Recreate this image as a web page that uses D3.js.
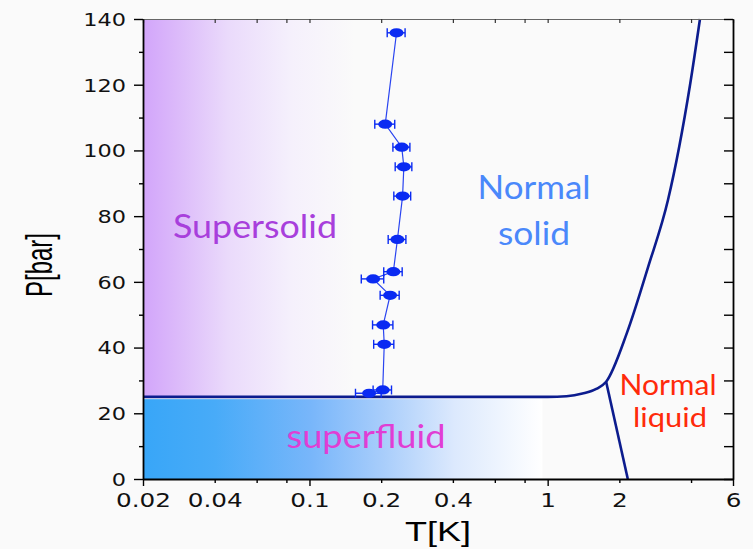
<!DOCTYPE html>
<html>
<head>
<meta charset="utf-8">
<script src="https://cdn.jsdelivr.net/npm/d3@7"></script>
<style>
  html, body { margin: 0; padding: 0; background: #fafafa; }
  svg { display: block; }
</style>
</head>
<body>
<svg id="chart" width="753" height="549"></svg>
<script>
// Onset temperature of the supersolid signal vs pressure
const pressure = [135.8, 108.0, 101.0, 95.0, 86.1, 72.9, 63.1, 60.9, 55.9, 46.9, 41.0, 27.1, 26.1];
const tOnset   = [0.232, 0.208, 0.244, 0.249, 0.246, 0.234, 0.225, 0.185, 0.218, 0.204, 0.206, 0.203, 0.178];
const tErr     = [0.02, 0.02, 0.02, 0.02, 0.02, 0.02, 0.02, 0.02, 0.02, 0.02, 0.02, 0.018, 0.022];

// Solid / liquid boundary (melting curve) of 4He
const meltT = [0.02, 0.5, 1.0, 1.2, 1.4, 1.6, 1.76, 2.15, 2.64, 3.2, 3.96, 4.36];
const meltP = [25.0, 25.0, 25.0, 25.2, 26.0, 27.4, 29.6, 44.4, 64.5, 84.9, 119.9, 140];

// Lambda line between superfluid and normal liquid
const lambdaT = [1.76, 2.17];
const lambdaP = [29.6, 0];

// Axis ticks
const xTicks  = [0.02, 0.04, 0.06, 0.08, 0.1, 0.2, 0.4, 0.6, 0.8, 1, 2, 4, 6];
const xLabels = [0.02, 0.04, 0.1, 0.2, 0.4, 1, 2, 6];
const xMajor  = [0.02, 0.1, 1, 6];
const yMajor  = [0, 20, 40, 60, 80, 100, 120, 140];
const yMinor  = [10, 30, 50, 70, 90, 110, 130];

// Phase regions
const superfluidP = 24.3;
const superfluidTmax = 0.95;
const supersolidTmax = 0.155;
const solidBaseP = 25.0;

const svg = d3.select("#chart");
const mL = 143, mR = 733, mT = 19, mB = 479;

const x = d3.scaleLog().domain([0.02, 6]).range([mL, mR]);
const y = d3.scaleLinear().domain([0, 140]).range([mB, mT]);

const defs = svg.append("defs");
const gPurple = defs.append("linearGradient").attr("id", "gPurple")
  .attr("x1", "0").attr("x2", "1").attr("y1", "0").attr("y2", "0");
[[0, "#d2a5fa"], [0.15, "#dbb8fa"], [0.4, "#eadafb"], [0.7, "#f5f0fc"], [1, "#fafafa"]]
  .forEach(([o, c]) => gPurple.append("stop").attr("offset", o).attr("stop-color", c));

const gBlue = defs.append("linearGradient").attr("id", "gBlue")
  .attr("x1", "0").attr("x2", "1").attr("y1", "0").attr("y2", "0");
[[0, "#38a6f8"], [0.18, "#48abf8"], [0.42, "#78b6fa"], [0.6, "#a8cdfb"], [0.78, "#dce9fd"], [1, "#ffffff"]]
  .forEach(([o, c]) => gBlue.append("stop").attr("offset", o).attr("stop-color", c));

// Supersolid shading
svg.append("rect")
  .attr("x", x(0.02)).attr("y", y(140))
  .attr("width", x(supersolidTmax) - x(0.02))
  .attr("height", y(solidBaseP) - y(140))
  .attr("fill", "url(#gPurple)");

// Superfluid shading
svg.append("rect")
  .attr("x", x(0.02)).attr("y", y(superfluidP))
  .attr("width", x(superfluidTmax) - x(0.02))
  .attr("height", y(0) - y(superfluidP))
  .attr("fill", "url(#gBlue)");

// Phase boundaries
const lineNavy = "#0c1c8e";
const melt = meltT.map((t, i) => [t, meltP[i]]);
svg.append("path")
  .attr("d", d3.line().x(d => x(d[0])).y(d => y(d[1])).curve(d3.curveMonotoneX)(melt))
  .attr("fill", "none").attr("stroke", lineNavy).attr("stroke-width", 2.6);

const lam = lambdaT.map((t, i) => [t, lambdaP[i]]);
svg.append("path")
  .attr("d", d3.line().x(d => x(d[0])).y(d => y(d[1]))(lam))
  .attr("fill", "none").attr("stroke", lineNavy).attr("stroke-width", 2.6);

// Onset points
const blue = "#0a2af2";
const pts = pressure.map((p, i) => ({ p, t: tOnset[i], e: tErr[i] }));
svg.append("path")
  .attr("d", d3.line().x(d => x(d.t)).y(d => y(d.p))(pts))
  .attr("fill", "none").attr("stroke", "#2a44f0").attr("stroke-width", 1.2);

const gp = svg.append("g").selectAll("g").data(pts).join("g");
gp.append("line")
  .attr("x1", d => x(d.t - d.e)).attr("x2", d => x(d.t + d.e))
  .attr("y1", d => y(d.p)).attr("y2", d => y(d.p))
  .attr("stroke", blue).attr("stroke-width", 1.4);
gp.append("line")
  .attr("x1", d => x(d.t - d.e)).attr("x2", d => x(d.t - d.e))
  .attr("y1", d => y(d.p) - 4.5).attr("y2", d => y(d.p) + 4.5)
  .attr("stroke", blue).attr("stroke-width", 1.4);
gp.append("line")
  .attr("x1", d => x(d.t + d.e)).attr("x2", d => x(d.t + d.e))
  .attr("y1", d => y(d.p) - 4.5).attr("y2", d => y(d.p) + 4.5)
  .attr("stroke", blue).attr("stroke-width", 1.4);
gp.append("ellipse")
  .attr("cx", d => x(d.t)).attr("cy", d => y(d.p))
  .attr("rx", 7).attr("ry", 4.6)
  .attr("fill", blue);

// Axes
const tickFont = "'DejaVu Sans', Verdana, sans-serif";
const fmt = d => (xLabels.includes(d) ? String(d) : "");

const axBottom = svg.append("g").attr("transform", `translate(0,${mB})`)
  .call(d3.axisBottom(x).tickValues(xTicks).tickFormat(fmt).tickSizeOuter(0));
axBottom.selectAll(".tick line")
  .attr("y2", d => (xMajor.includes(d) ? 7 : 4))
  .attr("stroke", "#000").attr("stroke-width", 1.4);
axBottom.selectAll(".tick text")
  .attr("y", 0).attr("dy", 0)
  .attr("transform", "translate(0,28) scale(1.3,1)")
  .attr("font-family", tickFont).attr("font-size", 19).attr("fill", "#111");

const axTop = svg.append("g").attr("transform", `translate(0,${mT})`)
  .call(d3.axisBottom(x).tickValues(xTicks).tickFormat("").tickSize(4).tickSizeOuter(0));
axTop.selectAll(".tick line").attr("stroke", "#333").attr("stroke-width", 1.2);

const axLeft = svg.append("g").attr("transform", `translate(${mL},0)`)
  .call(d3.axisLeft(y).tickValues(yMajor).tickSize(9).tickSizeOuter(0));
axLeft.selectAll(".tick line").attr("stroke", "#000").attr("stroke-width", 1.4);
axLeft.selectAll(".tick text")
  .attr("x", 0).attr("dy", "0.36em")
  .attr("transform", "translate(-17,0) scale(1.28,1)")
  .attr("font-family", tickFont).attr("font-size", 17.5).attr("fill", "#111");
const axLeftMinor = svg.append("g").attr("transform", `translate(${mL},0)`)
  .call(d3.axisLeft(y).tickValues(yMinor).tickFormat("").tickSize(4).tickSizeOuter(0));
axLeftMinor.selectAll(".tick line").attr("stroke", "#000").attr("stroke-width", 1.4);

const axRight = svg.append("g").attr("transform", `translate(${mR},0)`)
  .call(d3.axisLeft(y).tickValues(yMajor.concat(yMinor)).tickFormat("").tickSize(9).tickSizeOuter(0));
axRight.selectAll(".tick line").attr("stroke", "#000").attr("stroke-width", 1.4);

[axBottom, axLeft, axRight].forEach(g => g.select(".domain").attr("stroke", "#000").attr("stroke-width", 1.8));
axLeftMinor.select(".domain").attr("stroke", "none");
axTop.select(".domain").attr("stroke", "#666").attr("stroke-width", 1.2);

// Axis titles
svg.append("text")
  .attr("x", 438).attr("y", 541).attr("text-anchor", "middle")
  .attr("font-family", "'Liberation Sans', Arial, sans-serif").attr("font-size", 28)
  .attr("textLength", 66).attr("lengthAdjust", "spacingAndGlyphs")
  .attr("fill", "#000").text("T[K]");

svg.append("text")
  .attr("transform", "translate(52,265) rotate(-90)")
  .attr("text-anchor", "middle")
  .attr("font-family", "'Liberation Sans', Arial, sans-serif").attr("font-size", 36)
  .attr("textLength", 64).attr("lengthAdjust", "spacingAndGlyphs")
  .attr("fill", "#000").text("P[bar]");

// Region labels
const labelFont = "'Comic Sans MS', Lato, 'Open Sans', sans-serif";
const labels = [
  { text: "Supersolid", x: 255, y: 238, size: 32, len: 164, color: "#a83fdc" },
  { text: "Normal", x: 534, y: 199, size: 32, len: 113, color: "#4a88fa" },
  { text: "solid", x: 534, y: 245, size: 32, len: 72, color: "#4a88fa" },
  { text: "Normal", x: 668, y: 395, size: 28, len: 97, color: "#ff2a0a" },
  { text: "liquid", x: 670, y: 427, size: 26, len: 74, color: "#ff2a0a" },
  { text: "superfluid", x: 366, y: 448, size: 32, len: 159, color: "#e03ed4" }
];
svg.append("g").selectAll("text").data(labels).join("text")
  .attr("x", d => d.x).attr("y", d => d.y)
  .attr("text-anchor", "middle")
  .attr("font-family", labelFont).attr("font-size", d => d.size)
  .attr("textLength", d => d.len).attr("lengthAdjust", "spacingAndGlyphs")
  .attr("fill", d => d.color)
  .text(d => d.text);
</script>
</body>
</html>
